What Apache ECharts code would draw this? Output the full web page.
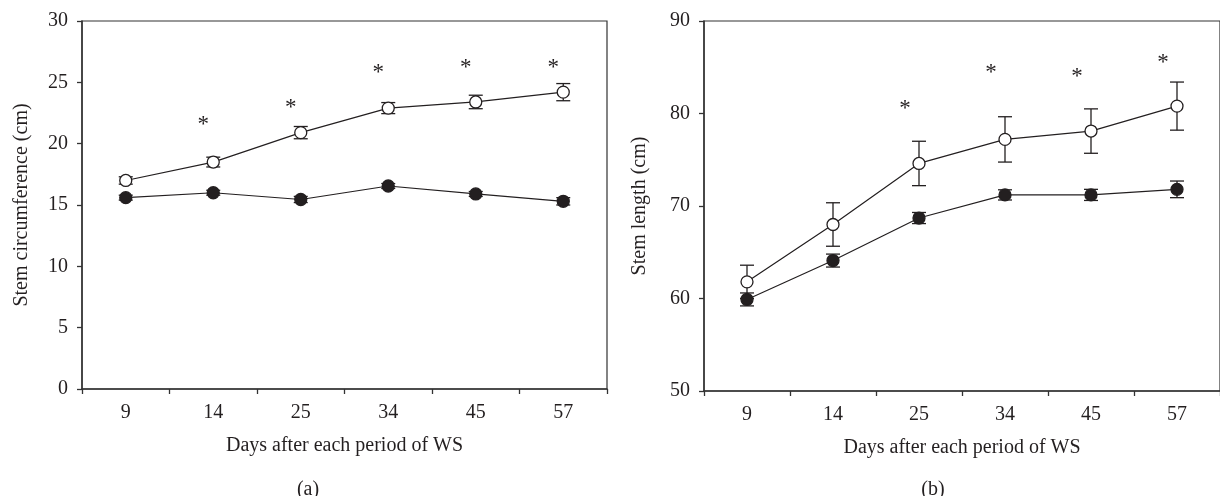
<!DOCTYPE html>
<html>
<head>
<meta charset="utf-8">
<script src="https://cdn.jsdelivr.net/npm/echarts@6/dist/echarts.min.js"></script>
<style>
html,body{margin:0;padding:0;background:#fff;}
#chart{width:1220px;height:496px;}
</style>
</head>
<body>
<div id="chart"></div>
<script>
// ---- data ----
var days = ['9', '14', '25', '34', '45', '57'];
// Panel (a): stem circumference (cm)
var circOpen = [17.0, 18.5, 20.9, 22.9, 23.4, 24.2];
var circOpenErr = [0.3, 0.4, 0.5, 0.45, 0.55, 0.7];
var circFilled = [15.6, 16.0, 15.45, 16.55, 15.9, 15.3];
var circFilledErr = [0.2, 0.2, 0.25, 0.2, 0.2, 0.3];
var circStar = [null, 21.5, 22.9, 25.8, 26.2, 26.2];
// Panel (b): stem length (cm)
var lenOpen = [61.8, 68.0, 74.6, 77.2, 78.1, 80.8];
var lenOpenErr = [1.8, 2.35, 2.4, 2.45, 2.4, 2.6];
var lenFilled = [59.9, 64.1, 68.7, 71.2, 71.2, 71.8];
var lenFilledErr = [0.7, 0.7, 0.6, 0.55, 0.6, 0.9];
var lenStar = [null, null, 80.5, 84.4, 83.9, 85.5];
var circTicks = {min: 0, max: 30, interval: 5};
var lenTicks = {min: 50, max: 90, interval: 10};

var FONT = '"Liberation Serif", "DejaVu Serif", serif';
var INK = '#231f20';
var FS = 20;

function errData(means, errs) {
  return means.map(function (m, i) { return [i, m, errs[i]]; });
}
function starData(vals) {
  var out = [];
  vals.forEach(function (v, i) { if (v != null) out.push([i, v]); });
  return out;
}
function errRender(params, api) {
  var x = api.value(0), m = api.value(1), e = api.value(2);
  var top = api.coord([x, m + e]), bot = api.coord([x, m - e]);
  var hw = 7;
  var st = {stroke: INK, lineWidth: 1.3};
  return {type: 'group', children: [
    {type: 'line', shape: {x1: top[0], y1: top[1], x2: bot[0], y2: bot[1]}, style: st},
    {type: 'line', shape: {x1: top[0] - hw, y1: top[1], x2: top[0] + hw, y2: top[1]}, style: st},
    {type: 'line', shape: {x1: bot[0] - hw, y1: bot[1], x2: bot[0] + hw, y2: bot[1]}, style: st}
  ]};
}
function starRender(dx) {
  return function (params, api) {
    var p = api.coord([api.value(0), api.value(1)]);
    return {type: 'text', x: p[0] + dx, y: p[1],
      style: {text: '*', font: '23px ' + FONT, fill: INK, align: 'center', verticalAlign: 'middle'}};
  };
}

function xAxis(gi) {
  return {
    type: 'category', gridIndex: gi, data: days, boundaryGap: true,
    name: 'Days after each period of WS', nameLocation: 'middle', nameGap: 47,
    nameTextStyle: {fontFamily: FONT, fontSize: FS, color: INK},
    axisLine: {lineStyle: {color: '#333', width: 1.5}},
    axisTick: {show: true, inside: false, length: 5, alignWithLabel: false, lineStyle: {color: '#333', width: 1.3}},
    axisLabel: {fontFamily: FONT, fontSize: FS, color: INK, margin: 14},
    splitLine: {show: false}
  };
}
function yAxis(gi, ticks, name, gap) {
  return {
    type: 'value', gridIndex: gi, min: ticks.min, max: ticks.max, interval: ticks.interval,
    name: name, nameLocation: 'middle', nameGap: gap,
    nameTextStyle: {fontFamily: FONT, fontSize: FS, color: INK},
    axisLine: {show: true, lineStyle: {color: '#333', width: 1.5}},
    axisTick: {show: true, inside: false, length: 5, lineStyle: {color: '#333', width: 1.3}},
    axisLabel: {fontFamily: FONT, fontSize: FS, color: INK, margin: 14},
    splitLine: {show: false}
  };
}
function lineSeries(idx, vals, filled) {
  return {
    type: 'line', xAxisIndex: idx, yAxisIndex: idx, data: vals, z: 3,
    symbol: 'circle', symbolSize: 12, showSymbol: true,
    lineStyle: {color: INK, width: 1.2},
    itemStyle: {color: filled ? INK : '#fff', borderColor: INK, borderWidth: 1.3},
    animation: false
  };
}
function errSeries(idx, means, errs) {
  return {type: 'custom', xAxisIndex: idx, yAxisIndex: idx, data: errData(means, errs),
    renderItem: errRender, z: 2, animation: false};
}
function starSeries(idx, vals, dx) {
  return {type: 'custom', xAxisIndex: idx, yAxisIndex: idx, data: starData(vals),
    renderItem: starRender(dx), z: 4, animation: false};
}

var chart = echarts.init(document.getElementById('chart'), null, {renderer: 'canvas'});
chart.setOption({
  backgroundColor: '#fff',
  animation: false,
  title: [
    {text: '(a)', left: 303, top: 475, textAlign: 'center', textStyle: {fontFamily: FONT, fontSize: FS, fontWeight: 'normal', color: INK}},
    {text: '(b)', left: 928, top: 475, textAlign: 'center', textStyle: {fontFamily: FONT, fontSize: FS, fontWeight: 'normal', color: INK}}
  ],
  grid: [
    {left: 82, top: 21, width: 525, height: 368, show: true, borderColor: '#333', borderWidth: 1.2, backgroundColor: 'transparent'},
    {left: 704, top: 21, width: 525, height: 370, show: true, borderColor: '#333', borderWidth: 1.2, backgroundColor: 'transparent'}
  ],
  xAxis: [xAxis(0), xAxis(1)],
  yAxis: [yAxis(0, circTicks, 'Stem circumference (cm)', 50), yAxis(1, lenTicks, 'Stem length (cm)', 54)],
  series: [
    errSeries(0, circOpen, circOpenErr),
    errSeries(0, circFilled, circFilledErr),
    lineSeries(0, circOpen, false),
    lineSeries(0, circFilled, true),
    starSeries(0, circStar, -10),
    errSeries(1, lenOpen, lenOpenErr),
    errSeries(1, lenFilled, lenFilledErr),
    lineSeries(1, lenOpen, false),
    lineSeries(1, lenFilled, true),
    starSeries(1, lenStar, -14)
  ]
});
</script>
</body>
</html>
